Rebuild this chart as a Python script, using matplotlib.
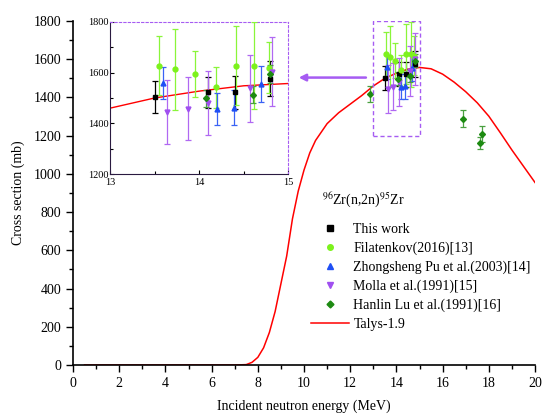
import matplotlib
matplotlib.use("Agg")
import matplotlib.pyplot as plt
from matplotlib.lines import Line2D
from matplotlib.patches import Rectangle
from matplotlib.ticker import MultipleLocator

plt.rcParams["font.family"] = ["Liberation Serif", "DejaVu Serif"]
plt.rcParams["mathtext.fontset"] = "stix"

# --- measured cross sections (MeV, mb, mb) ---
this_e = [13.5, 14.1, 14.4, 14.8]
this_cs = [1503, 1522, 1522, 1576]
this_err = [63, 62, 65, 68]

fil_e = [13.55, 13.73, 13.95, 14.19, 14.41, 14.62, 14.78]
fil_cs = [1627, 1613, 1593, 1542, 1627, 1627, 1619]
fil_err = [115, 160, 90, 80, 155, 170, 100]

pu_e = [13.6, 14.2, 14.39, 14.69]
pu_cs = [1558, 1457, 1462, 1555]
pu_err = [62, 64, 70, 70]

molla_e = [13.64, 13.87, 14.1, 14.57, 14.82]
molla_cs = [1444, 1457, 1479, 1538, 1603]
molla_err = [125, 124, 126, 133, 136]

lu_e = [12.86, 14.08, 14.6, 14.79, 16.9, 17.7, 17.63]
lu_cs = [1417, 1499, 1513, 1593, 1289, 1209, 1162]
lu_err = [43, 33, 33, 35, 43, 40, 33]

# --- Talys-1.9 evaluation ---
talys_e = [0.5, 1, 2, 3, 4, 5, 6, 7, 7.5, 7.75, 8.0, 8.25, 8.5, 8.75, 9.0,
           9.25, 9.5, 9.75, 10.0, 10.25, 10.5, 11.0, 11.5, 12.0, 12.5, 13.0,
           13.5, 14.0, 14.5, 15.0, 15.5, 16.0, 16.5, 17.0, 17.5, 18.0, 18.5,
           19.0, 19.5, 20.0]
talys_cs = [0, 0, 0, 0, 0, 0, 0, 0, 2, 14, 40, 90, 170, 280, 425,
            570, 765, 910, 1020, 1110, 1175, 1263, 1320, 1365, 1410, 1460,
            1500, 1527, 1548, 1557, 1550, 1522, 1480, 1430, 1372, 1302, 1215,
            1125, 1040, 955]

series = [
    ("This work", this_e, this_cs, this_err, "s", "black", "black"),
    ("Filatenkov(2016)[13]", fil_e, fil_cs, fil_err, "o", "#7cf21c", "#8af53a"),
    ("Zhongsheng Pu et al.(2003)[14]", pu_e, pu_cs, pu_err, "^", "#1f4ff5", "#3a62f5"),
    ("Molla et al.(1991)[15]", molla_e, molla_cs, molla_err, "v", "#a04ff0", "#b068f2"),
    ("Hanlin Lu et al.(1991)[16]", lu_e, lu_cs, lu_err, "D", "#1d8a12", "#4aa040"),
]
purple = "#a65cf2"

fig = plt.figure(figsize=(5.42, 4.16), dpi=100)
ax = fig.add_axes([0.1347, 0.1226, 0.8524, 0.8269])

ax.plot(talys_e, talys_cs, color="red", lw=1.1, zorder=2)
for label, e, cs, err, mk, col, ecol in series:
    ax.errorbar(e, cs, yerr=err, fmt=mk, color=col, ecolor=ecol, ms=3.5 if mk != "D" else 3,
                elinewidth=0.9, capsize=2.5, capthick=0.9, zorder=3)

ax.add_patch(Rectangle((13, 1200), 2, 600, fill=False, ec=purple, ls=(0, (3, 2)), lw=1.0, zorder=4))
ax.annotate("", xy=(9.65, 1504), xytext=(12.8, 1504),
            arrowprops=dict(arrowstyle="-|>", color=purple, lw=1.8, mutation_scale=10))

ax.set_xlim(0, 20)
ax.set_ylim(0, 1800)
ax.xaxis.set_major_locator(MultipleLocator(2))
ax.xaxis.set_minor_locator(MultipleLocator(1))
ax.yaxis.set_major_locator(MultipleLocator(200))
ax.yaxis.set_minor_locator(MultipleLocator(100))
ax.tick_params(which="both", direction="out", labelsize=10, width=1)
ax.tick_params(which="major", length=5)
ax.tick_params(which="minor", length=3)
for side in ("top", "right"):
    ax.spines[side].set_visible(False)
ax.spines["left"].set_linewidth(1.2)
ax.spines["bottom"].set_linewidth(1.2)
ax.set_xlabel("Incident neutron energy (MeV)", fontsize=10, labelpad=7)
ax.set_ylabel("Cross section (mb)", fontsize=10, labelpad=6)

handles = [Line2D([], [], ls="none", marker=mk, color=col, ms=4 if mk != "D" else 3.5)
           for _, _, _, _, mk, col, _ in series]
handles.append(Line2D([], [], color="red", lw=1.1))
labels = [s[0] for s in series] + ["Talys-1.9"]
fig.legend(handles, labels, loc="upper left", bbox_to_anchor=(311 / 542, 1 - 223 / 416),
           frameon=False, fontsize=10, handlelength=2.7, handletextpad=0.35,
           labelspacing=0.4, borderpad=0, borderaxespad=0)
fig.text(322 / 542, 1 - 205 / 416, r"$^{96}$Zr(n,2n)$^{95}$Zr", fontsize=10)

# --- zoomed inset around 14 MeV ---
ins = fig.add_axes([110 / 542, 1 - 174.3 / 416, 178.3 / 542, 152.6 / 416])
ins.plot(talys_e, talys_cs, color="red", lw=1.0, zorder=2)
for label, e, cs, err, mk, col, ecol in series:
    ins.errorbar(e, cs, yerr=err, fmt=mk, color=col, ecolor=ecol, ms=3.5 if mk != "D" else 3,
                 elinewidth=0.9, capsize=2, capthick=0.9, zorder=3)
ins.set_xlim(13, 15)
ins.set_ylim(1200, 1800)
ins.xaxis.set_major_locator(MultipleLocator(1))
ins.xaxis.set_minor_locator(MultipleLocator(0.5))
ins.yaxis.set_major_locator(MultipleLocator(200))
ins.yaxis.set_minor_locator(MultipleLocator(100))
ins.tick_params(which="both", direction="in", labelsize=7.5, width=0.8)
ins.tick_params(axis="y", pad=1.0)
ins.tick_params(axis="x", pad=3.0)
ins.tick_params(which="major", length=3)
ins.tick_params(which="minor", length=2)
for side in ("top", "right"):
    ins.spines[side].set_color(purple)
    ins.spines[side].set_linestyle((0, (2, 2)))
ins.spines["left"].set_color("#2a1a40")
ins.spines["bottom"].set_color("#2a1a40")
ins.patch.set_alpha(0)

fig.savefig("out.png", dpi=100)
